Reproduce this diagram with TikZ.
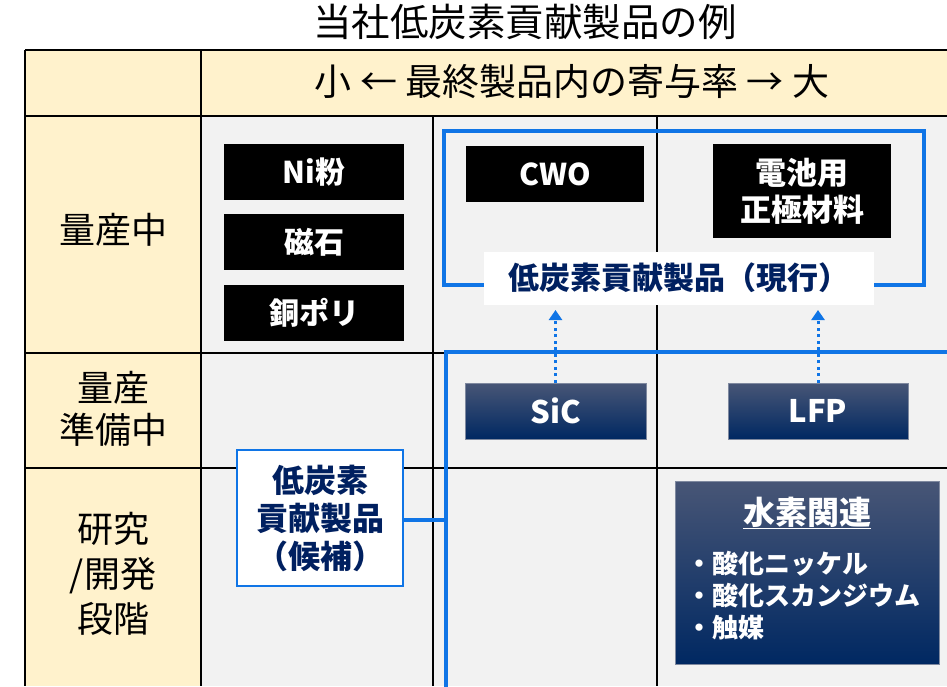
\documentclass[tikz,border=0pt]{standalone}
\usepackage{fontspec}
\setmainfont{Noto Sans CJK JP}
\usetikzlibrary{arrows.meta,shapes.geometric}
\definecolor{beige}{RGB}{255,242,204}
\definecolor{cellgray}{RGB}{242,242,242}
\definecolor{frameblue}{RGB}{16,117,230}
\definecolor{navytxt}{RGB}{0,32,96}
\definecolor{navytop}{RGB}{72,86,118}
\definecolor{navybot}{RGB}{0,40,98}
\tikzset{
  grid/.style={line width=1.6pt, black},
  blackbox/.style={fill=black, text=white, inner sep=0pt, font=\fontsize{30}{37}\selectfont\bfseries, align=center},
  navybox/.style={top color=navytop, bottom color=navybot, draw=navytop!70!white, line width=0.8pt, text=white, inner sep=0pt, font=\fontsize{31}{34}\selectfont\bfseries, align=center},
  rowlabel/.style={font=\fontsize{36}{45}\selectfont, align=center, inner sep=0pt},
  bluefr/.style={draw=frameblue, line width=4.5pt},
  dotarrow/.style={draw=frameblue, line width=3pt, dash pattern=on 3pt off 3.5pt, -{Triangle[width=13pt,length=10pt]}},
  tag/.style={fill=white, text=navytxt, inner sep=0pt, font=\fontsize{31}{36}\selectfont\bfseries, align=center}
}
\begin{document}
\begin{tikzpicture}[x=1pt,y=-1pt]
\useasboundingbox (0,0) rectangle (947,686);
% table fills
\fill[beige] (25,50) rectangle (947,116);
\fill[beige] (25,116) rectangle (201,686);
\fill[cellgray] (201,116) rectangle (947,686);
% grid lines
\draw[grid] (25,50) -- (947,50);
\draw[grid] (25,116) -- (947,116);
\draw[grid] (25,353) -- (947,353);
\draw[grid] (25,468) -- (947,468);
\draw[grid] (25,50) -- (25,686);
\draw[grid] (201,50) -- (201,686);
\draw[grid] (433,116) -- (433,686);
\draw[grid] (657,116) -- (657,686);
% title and header
\node[font=\fontsize{38.5}{42}\selectfont, inner sep=0pt] (title) at (525,22) {当社低炭素貢献製品の例};
\node[font=\fontsize{37}{42}\selectfont, inner sep=0pt] (head) at (572,81) {小 ← 最終製品内の寄与率 → 大};
% row labels
\node[rowlabel] (r1) at (113,230) {量産中};
\node[rowlabel, font=\fontsize{36}{42}\selectfont] (r2) at (113,409) {量産\\準備中};
\node[rowlabel] (r3) at (113,574) {研究\\/開発\\段階};
% black boxes
\node[blackbox, minimum width=180pt, minimum height=56pt] (ni) at (314,172) {Ni粉};
\node[blackbox, minimum width=180pt, minimum height=56pt] (mag) at (314,242) {磁石};
\node[blackbox, minimum width=180pt, minimum height=56pt] (cu) at (314,313) {銅ポリ};
\node[blackbox, minimum width=178pt, minimum height=56pt] (cwo) at (555,174) {CWO};
\node[blackbox, minimum width=178pt, minimum height=94pt, font=\fontsize{31}{37}\selectfont\bfseries] (bat) at (802,191) {電池用\\正極材料};
% current frame
\draw[bluefr] (444,131) rectangle (924,285);
\node[tag, minimum width=390pt, minimum height=53pt] (cur) at (679,278) {低炭素貢献製品（現行）};
% candidate frame
\coordinate (f1) at (950,352);
\coordinate (f2) at (446,352);
\coordinate (f3) at (446,690);
\draw[bluefr] (f1) -- (f2) -- (f3);
\node[tag, draw=frameblue, line width=2pt, minimum width=166pt, minimum height=136pt, font=\fontsize{32}{38}\selectfont\bfseries] (cand) at (320,518) {低炭素\\貢献製品\\（候補）};
\coordinate (cj) at (446,520);
\draw[draw=frameblue, line width=3.5pt] (cand.east |- cj) -- (cj);
% navy boxes
\node[navybox, minimum width=181pt, minimum height=56pt] (sic) at (555.5,411) {SiC};
\node[navybox, minimum width=180pt, minimum height=56pt] (lfp) at (818,411) {LFP};
\node[navybox, minimum width=264pt, minimum height=183pt] (h2) at (807,572.5) {};
\node[text=white, font=\fontsize{32}{36}\selectfont\bfseries, inner sep=0pt] (h2t) at (807,513) {\underline{水素関連}};
\node[text=white, font=\fontsize{26}{32}\selectfont\bfseries, inner sep=0pt, align=left, anchor=west] (h2l) at (686,596) {・酸化ニッケル\\・酸化スカンジウム\\・触媒};
% arrows
\coordinate (a1) at (555.5,310);
\coordinate (a2) at (818,310);
\draw[dotarrow] (sic.north) -- (a1);
\draw[dotarrow] (lfp.north) -- (a2);
\end{tikzpicture}
\end{document}
